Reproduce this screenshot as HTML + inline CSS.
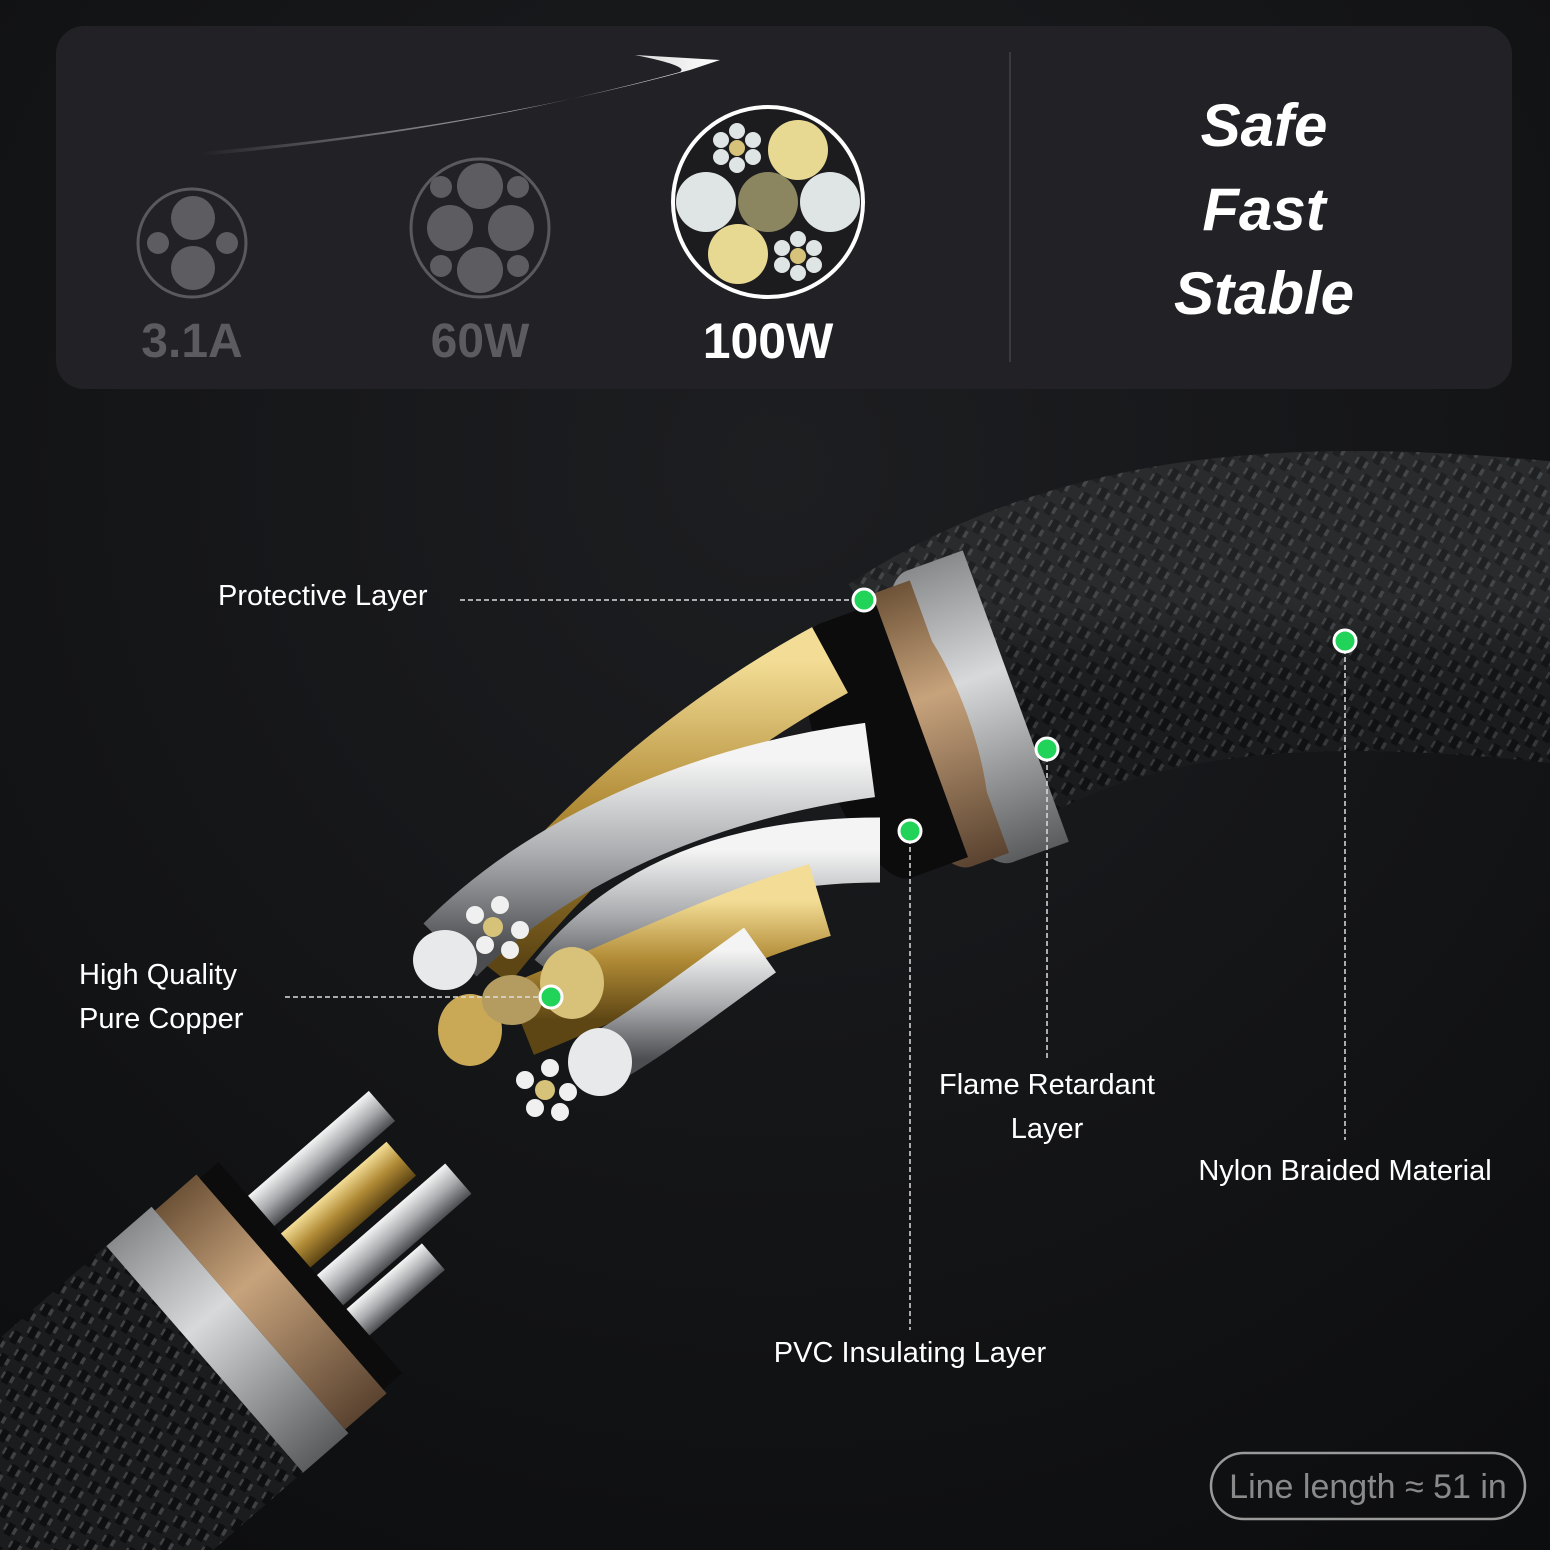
<!DOCTYPE html>
<html><head><meta charset="utf-8"><style>
html,body{margin:0;padding:0;width:1550px;height:1550px;overflow:hidden;background:#121315}
svg{display:block;overflow:hidden}
text{font-family:"Liberation Sans",sans-serif}
</style></head><body>
<svg width="1550" height="1550" viewBox="0 0 1550 1550" xmlns="http://www.w3.org/2000/svg">
<defs>
<radialGradient id="bg" cx="0.5" cy="0.3" r="0.9">
<stop offset="0" stop-color="#1d1e21"/><stop offset="1" stop-color="#0b0c0d"/></radialGradient>
<linearGradient id="swoosh" x1="0" x2="1"><stop offset="0" stop-color="#fff" stop-opacity="0"/><stop offset="1" stop-color="#fff"/></linearGradient>
<linearGradient id="braid" x1="0" y1="0" x2="0" y2="1"><stop offset="0" stop-color="#3a3c3e"/><stop offset="0.5" stop-color="#1c1d1f"/><stop offset="1" stop-color="#0e0f10"/></linearGradient>
<linearGradient id="gold" x1="0" y1="0" x2="0" y2="1"><stop offset="0" stop-color="#f3dd96"/><stop offset="0.5" stop-color="#b08a35"/><stop offset="1" stop-color="#5e4614"/></linearGradient>
<linearGradient id="silver" x1="0" y1="0" x2="0" y2="1"><stop offset="0" stop-color="#f4f4f4"/><stop offset="0.5" stop-color="#a9abae"/><stop offset="1" stop-color="#4b4d50"/></linearGradient>
<linearGradient id="bronzeV" x1="0" y1="0" x2="0" y2="1"><stop offset="0" stop-color="#6e5338"/><stop offset="0.4" stop-color="#c7a37c"/><stop offset="1" stop-color="#5a4330"/></linearGradient>
<linearGradient id="silverV" x1="0" y1="0" x2="0" y2="1"><stop offset="0" stop-color="#888a8c"/><stop offset="0.4" stop-color="#d8d9da"/><stop offset="1" stop-color="#5a5c5e"/></linearGradient>
<pattern id="weave" width="26" height="26" patternUnits="userSpaceOnUse" patternTransform="rotate(30)">
<rect width="26" height="26" fill="#202224"/><path d="M0 6h13M13 19h13" stroke="#4a4d50" stroke-width="7"/><path d="M6 0v13M19 13v13" stroke="#111213" stroke-width="7"/></pattern>
<clipPath id="frame"><rect width="1550" height="1550"/></clipPath>
</defs>
<g clip-path="url(#frame)">
<rect width="1550" height="1550" fill="url(#bg)"/>
<rect x="56" y="26" width="1456" height="363" rx="28" fill="#222226"/>
<line x1="1010" y1="52" x2="1010" y2="362" stroke="#3a3a3e" stroke-width="2"/>
<path d="M200 152 Q470 130 690 70 L720 60 L635 55 Q690 66 680 72 Q460 132 200 156Z" fill="url(#swoosh)"/>
<circle cx="192" cy="243" r="54" fill="none" stroke="#5a5a5e" stroke-width="3"/>
<circle cx="193" cy="218" r="22" fill="#5d5d61"/><circle cx="193" cy="268" r="22" fill="#5d5d61"/>
<circle cx="158" cy="243" r="11" fill="#5d5d61"/><circle cx="227" cy="243" r="11" fill="#5d5d61"/>
<text x="192" y="357" font-size="48" font-weight="bold" fill="#5c5c60" text-anchor="middle">3.1A</text>
<circle cx="480" cy="228" r="69" fill="none" stroke="#5a5a5e" stroke-width="3"/>
<circle cx="480" cy="186" r="23" fill="#5d5d61"/><circle cx="480" cy="270" r="23" fill="#5d5d61"/>
<circle cx="450" cy="228" r="23" fill="#5d5d61"/><circle cx="511" cy="228" r="23" fill="#5d5d61"/>
<circle cx="441" cy="187" r="11" fill="#5d5d61"/><circle cx="518" cy="187" r="11" fill="#5d5d61"/>
<circle cx="441" cy="266" r="11" fill="#5d5d61"/><circle cx="518" cy="266" r="11" fill="#5d5d61"/>
<text x="480" y="357" font-size="48" font-weight="bold" fill="#5c5c60" text-anchor="middle">60W</text>
<circle cx="768" cy="202" r="95" fill="#1c1c1f" stroke="#fff" stroke-width="4"/>
<circle cx="768" cy="202" r="30" fill="#8b8660"/>
<circle cx="798" cy="150" r="30" fill="#e8d992"/><circle cx="738" cy="254" r="30" fill="#e8d992"/>
<circle cx="706" cy="202" r="30" fill="#dfe4e4"/><circle cx="830" cy="202" r="30" fill="#dfe4e4"/>
<g fill="#dfe4e4"><circle cx="737" cy="148" r="8" fill="#d7c27a"/><circle cx="737" cy="131" r="8"/><circle cx="737" cy="165" r="8"/><circle cx="721" cy="140" r="8"/><circle cx="753" cy="140" r="8"/><circle cx="721" cy="157" r="8"/><circle cx="753" cy="157" r="8"/></g>
<g fill="#dfe4e4"><circle cx="798" cy="256" r="8" fill="#d7c27a"/><circle cx="798" cy="239" r="8"/><circle cx="798" cy="273" r="8"/><circle cx="782" cy="248" r="8"/><circle cx="814" cy="248" r="8"/><circle cx="782" cy="265" r="8"/><circle cx="814" cy="265" r="8"/></g>
<text x="768" y="358" font-size="50" font-weight="bold" fill="#fff" text-anchor="middle">100W</text>
<g font-size="60" font-weight="bold" font-style="italic" fill="#fff" text-anchor="middle">
<text x="1264" y="146">Safe</text><text x="1264" y="230">Fast</text><text x="1264" y="314">Stable</text></g>

<path d="M930 710 C1100 600 1300 580 1620 620" stroke="url(#weave)" stroke-width="300" fill="none"/>
<path d="M930 710 C1100 600 1300 580 1620 620" stroke="url(#braid)" stroke-opacity="0.35" stroke-width="300" fill="none"/>
<g transform="rotate(-20 950 720)">
<rect x="960" y="565" width="60" height="310" fill="url(#silverV)"/>
<ellipse cx="960" cy="720" rx="50" ry="155" fill="url(#silverV)"/>
<rect x="920" y="575" width="40" height="290" fill="url(#bronzeV)"/>
<ellipse cx="920" cy="720" rx="48" ry="145" fill="url(#bronzeV)"/>
<rect x="860" y="585" width="60" height="270" fill="#0c0c0d"/>
<ellipse cx="860" cy="720" rx="45" ry="135" fill="#0c0c0d"/>
</g>
<path d="M830 660 C720 720 600 810 480 960" stroke="url(#gold)" stroke-width="75" fill="none"/>
<path d="M870 760 C720 780 560 840 450 950" stroke="url(#silver)" stroke-width="75" fill="none"/>
<path d="M880 850 C760 850 640 880 560 980" stroke="url(#silver)" stroke-width="65" fill="none"/>
<path d="M820 900 C720 930 620 980 520 1020" stroke="url(#gold)" stroke-width="75" fill="none"/>
<path d="M760 950 C690 1000 640 1040 600 1060" stroke="url(#silver)" stroke-width="55" fill="none"/>
<ellipse cx="445" cy="960" rx="32" ry="30" fill="#e8e9ea"/>
<ellipse cx="572" cy="983" rx="32" ry="36" fill="#d8c27a"/>
<ellipse cx="470" cy="1030" rx="32" ry="36" fill="#c9a956"/>
<ellipse cx="512" cy="1000" rx="30" ry="25" fill="#b49b60"/>
<ellipse cx="600" cy="1062" rx="32" ry="34" fill="#e8e9ea"/>
<g fill="#f0f0f0"><circle cx="493" cy="927" r="10" fill="#d7c27a"/><circle cx="475" cy="915" r="9"/><circle cx="500" cy="905" r="9"/><circle cx="520" cy="930" r="9"/><circle cx="510" cy="950" r="9"/><circle cx="485" cy="945" r="9"/></g>
<g fill="#f0f0f0"><circle cx="545" cy="1090" r="10" fill="#d7c27a"/><circle cx="525" cy="1080" r="9"/><circle cx="550" cy="1068" r="9"/><circle cx="568" cy="1092" r="9"/><circle cx="560" cy="1112" r="9"/><circle cx="535" cy="1108" r="9"/></g>

<polygon points="106,1246 303,1472 213,1550 0,1550 0,1338" fill="url(#weave)"/>
<polygon points="106,1246 303,1472 213,1550 0,1550 0,1338" fill="#000" fill-opacity="0.15"/>
<g transform="translate(250 1320) rotate(-41)">
<rect x="70" y="-95" width="170" height="40" fill="url(#silver)"/>
<rect x="70" y="-45" width="150" height="45" fill="url(#gold)"/>
<rect x="70" y="10" width="180" height="40" fill="url(#silver)"/>
<rect x="70" y="55" width="110" height="35" fill="url(#silver)"/>
<rect x="-60" y="-150" width="60" height="300" fill="url(#silverV)"/>
<rect x="0" y="-145" width="55" height="290" fill="url(#bronzeV)"/>
<rect x="55" y="-140" width="25" height="280" fill="#0c0c0d"/>
</g>

<g stroke="#ddd" stroke-width="1.5" stroke-dasharray="5,3" fill="none">
<path d="M460 600 H864"/><path d="M285 997 H551"/>
<path d="M910 831 V1330"/><path d="M1047 749 V1060"/><path d="M1345 641 V1140"/></g>
<g fill="#22d35a" stroke="#fff" stroke-width="3">
<circle cx="864" cy="600" r="11"/><circle cx="551" cy="997" r="11"/><circle cx="910" cy="831" r="11"/><circle cx="1047" cy="749" r="11"/><circle cx="1345" cy="641" r="11"/></g>
<g font-size="29" fill="#fff">
<text x="218" y="605">Protective Layer</text>
<text x="79" y="984">High Quality</text><text x="79" y="1028">Pure Copper</text>
<text x="1047" y="1094" text-anchor="middle">Flame Retardant</text>
<text x="1047" y="1138" text-anchor="middle">Layer</text>
<text x="1345" y="1180" text-anchor="middle">Nylon Braided Material</text>
<text x="910" y="1362" text-anchor="middle">PVC Insulating Layer</text></g>
<rect x="1211" y="1453" width="314" height="66" rx="33" fill="none" stroke="#9a9a9a" stroke-width="2.5"/>
<text x="1368" y="1498" font-size="34" fill="#8a8a8a" text-anchor="middle">Line length ≈ 51 in</text>
</g>
</svg>
</body></html>
